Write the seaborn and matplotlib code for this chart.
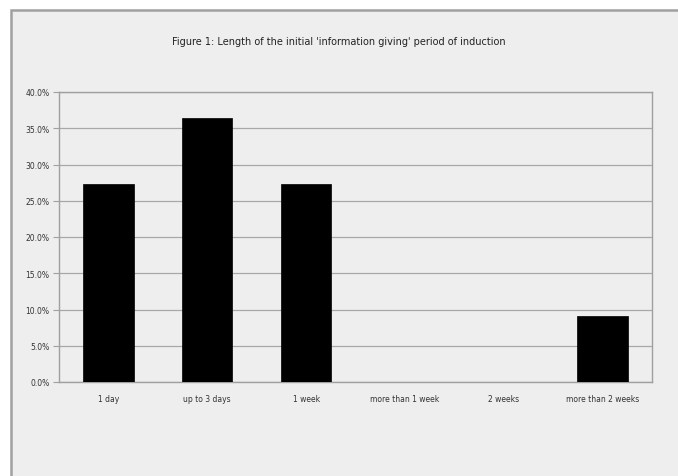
import matplotlib
matplotlib.use("Agg")
import matplotlib.pyplot as plt
import matplotlib.patches as mpatches
from matplotlib.ticker import MultipleLocator, FuncFormatter
import seaborn as sns
import pandas as pd

categories = ["1 day", "up to 3 days", "1 week", "more than 1 week", "2 weeks", "more than 2 weeks"]
shares = [27.3, 36.4, 27.3, 0.0, 0.0, 9.1]
title = "Figure 1: Length of the initial 'information giving' period of induction"

df = pd.DataFrame({"period": categories, "share": shares})

sns.set_theme(style="white")
plt.rcParams["font.family"] = ["DejaVu Sans"]

W, H = 678, 477
fig = plt.figure(figsize=(W / 100, H / 100), dpi=100)
fig.patch.set_facecolor("white")

# chart area panel: grey frame on the top and left, running off the right and bottom
panel = mpatches.Rectangle((10.5 / W, -0.05), 1.0, 1 - 11 / H + 0.05,
                           transform=fig.transFigure, facecolor="#eeeeee",
                           edgecolor="#a0a0a0", linewidth=1.8, zorder=0)
fig.patches.append(panel)

ax = fig.add_axes([59 / W, 1 - 383 / H, (652 - 59) / W, (383 - 93) / H])
ax.set_zorder(2)
ax.set_facecolor("#eeeeee")

sns.barplot(data=df, x="period", y="share", color="black", saturation=1,
            width=0.51, edgecolor="black", linewidth=0.5, ax=ax, zorder=3)

ax.set_ylim(0, 40)
ax.set_xlim(-0.5, len(categories) - 0.5)
ax.yaxis.set_major_locator(MultipleLocator(5))
ax.yaxis.set_major_formatter(FuncFormatter(lambda v, _: f"{v:.1f}%"))
ax.grid(axis="y", color="#a8a8a8", linewidth=0.9, zorder=0)
ax.set_axisbelow(True)
for s in ax.spines.values():
    s.set_color("#a0a0a0")
    s.set_linewidth(1.0)

ax.tick_params(axis="y", which="major", length=4, width=0.8, color="#a0a0a0",
               labelsize=5.5, pad=3, labelcolor="#333333", left=True)
ax.tick_params(axis="x", length=0, labelsize=5.5, pad=9, labelcolor="#333333")
ax.set_xlabel("")
ax.set_ylabel("")

fig.text(0.5, 1 - 42 / H, title, ha="center", va="center", fontsize=7, color="#222222")

fig.savefig("out.png", dpi=100, facecolor=fig.get_facecolor())
